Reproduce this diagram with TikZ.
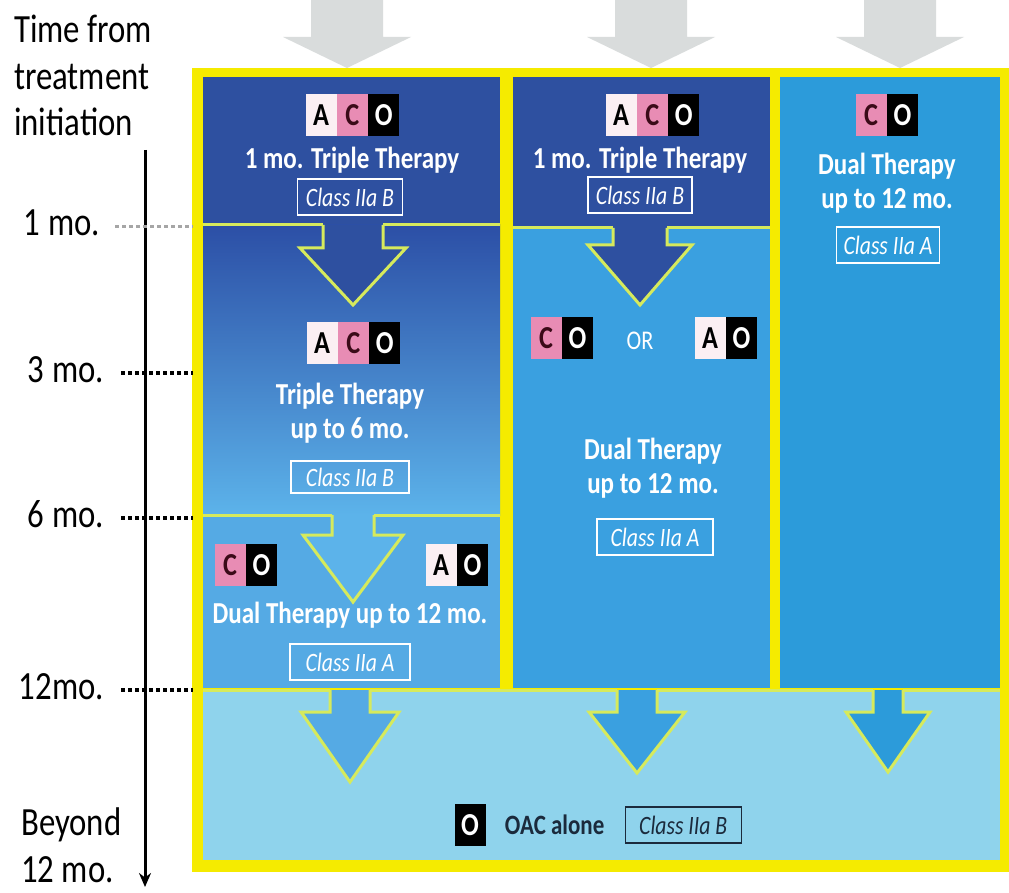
\documentclass[tikz,border=0pt]{standalone}
\usepackage{fontspec}
\setmainfont{Carlito}[FakeStretch=0.82]
\usetikzlibrary{positioning,arrows.meta}

\definecolor{frameyellow}{HTML}{F5EB00}
\definecolor{flowgreen}{HTML}{D6EA5C}
\definecolor{topblue}{HTML}{2E50A0}
\definecolor{midtop}{HTML}{2C4FA6}
\definecolor{midbot}{HTML}{5CB3EA}
\definecolor{lowblue}{HTML}{55AAE4}
\definecolor{col2blue}{HTML}{3AA0E0}
\definecolor{col3blue}{HTML}{2C9BDA}
\definecolor{skyblue}{HTML}{8FD3EC}
\definecolor{arrowgray}{HTML}{D9DCDC}
\definecolor{lettwhite}{HTML}{FBEFF3}
\definecolor{lettpink}{HTML}{E88CB4}
\definecolor{lettdark}{HTML}{3B0A18}
\definecolor{darktext}{HTML}{1B2A3C}

\newcommand\letfont{\fontsize{32}{32}\selectfont\bfseries}
\newcommand\thfont{\fontsize{30.5}{34}\selectfont\bfseries}
\newcommand\clsfont{\fontsize{26.5}{28}\selectfont\itshape}
\newcommand\timefont{\fontsize{40}{46.5}\selectfont}

\tikzset{
  letbox/.style={inner sep=0pt, minimum width=31pt, minimum height=42pt, font=\letfont},
  letA/.style={letbox, fill=lettwhite, text=black},
  letC/.style={letbox, fill=lettpink, text=lettdark},
  letO/.style={letbox, fill=black, text=white},
  therapy/.style={text=white, font=\thfont, align=center, inner sep=0pt},
  classbox/.style={draw=white, line width=1.5pt, text=white, font=\clsfont,
                   inner sep=0pt, minimum height=36pt},
  flowarrow/.style={draw=flowgreen, line width=3pt, line join=miter},
  sepline/.style={draw=flowgreen, line width=3pt},
  tickdots/.style={dash pattern=on 4pt off 3pt, line width=4pt},
  monthlabel/.style={font=\timefont, anchor=base east, inner sep=0pt},
}

\begin{document}
\begin{tikzpicture}[x=1pt, y=-1pt]
\useasboundingbox (0,0) rectangle (1009,893);
\fill[white] (0,0) rectangle (1009,893);

%% === GRAY ARROWS ENTERING THE FRAME ===
\foreach \cx in {347,651,900}
  \fill[arrowgray] (\cx-36,0) -- (\cx-36,37) -- (\cx-64,37) -- (\cx,68)
                   -- (\cx+64,37) -- (\cx+36,37) -- (\cx+36,0) -- cycle;

%% === FRAME AND COLUMNS ===
\fill[frameyellow] (192,68) rectangle (1009,872);
\fill[topblue] (203,77) rectangle (500,225);
\shade[top color=midtop, bottom color=midbot] (203,225) rectangle (500,515);
\fill[lowblue] (203,515) rectangle (500,688);
\fill[topblue] (513,77) rectangle (770,228);
\fill[col2blue] (513,228) rectangle (770,688);
\fill[col3blue] (780,77) rectangle (1000,688);
\fill[skyblue] (203,690) rectangle (1000,860);

%% separating lines, open where the arrow stems pass
\draw[sepline] (203,225) -- (323,225) (383,225) -- (500,225);
\draw[sepline] (203,515) -- (332,515) (374,515) -- (500,515);
\draw[sepline] (513,228) -- (613,228) (667,228) -- (770,228);
\draw[sepline] (203,690) -- (330,690) (370,690) -- (617,690)
               (657,690) -- (873,690) (903,690) -- (1000,690);

%% === FLOW ARROWS: centre/top/stem/head/head y/tip y/fill ===
\foreach \cx/\yt/\sw/\hw/\yh/\yp/\fc in {353/225/30/53/248/305/topblue,
    353/515/21/50/535/602/midbot, 640/228/27/52/245/305/topblue,
    350/690/20/49/712/782/lowblue, 637/690/20/48/712/773/col2blue,
    888/690/15/42/712/772/col3blue}
  \filldraw[flowarrow, fill=\fc] (\cx-\sw,\yt) -- (\cx-\sw,\yh) -- (\cx-\hw,\yh)
      -- (\cx,\yp) -- (\cx+\hw,\yh) -- (\cx+\sw,\yh) -- (\cx+\sw,\yt);

%% === COLUMN 1 ===
\node[letA] (aco1a) at (321,115) {A};
\node[letC, right=0pt of aco1a] (aco1c) {C};
\node[letO, right=0pt of aco1c] (aco1o) {O};
\node[therapy] (tt1) at (352,160) {1 mo. Triple Therapy};
\node[classbox, minimum width=105pt] (cls1) at (350,197) {Class IIa B};

\node[letA] (aco2a) at (322,343) {A};
\node[letC, right=0pt of aco2a] (aco2c) {C};
\node[letO, right=0pt of aco2c] (aco2o) {O};
\node[therapy] (tt2) at (350,413) {Triple Therapy\\up to 6 mo.};
\node[classbox, minimum width=118pt, minimum height=32pt] (cls2) at (350,477) {Class IIa B};

\node[letC] (co3c) at (230,565) {C};
\node[letO, right=0pt of co3c] (co3o) {O};
\node[letA] (ao3a) at (441,565) {A};
\node[letO, right=0pt of ao3a] (ao3o) {O};
\node[therapy] (dt3) at (350,615) {Dual Therapy up to 12 mo.};
\node[classbox, minimum width=120pt] (cls3) at (350,662) {Class IIa A};

%% === COLUMN 2 ===
\node[letA] (aco4a) at (621,115) {A};
\node[letC, right=0pt of aco4a] (aco4c) {C};
\node[letO, right=0pt of aco4c] (aco4o) {O};
\node[therapy] (tt4) at (640,160) {1 mo. Triple Therapy};
\node[classbox, minimum width=104pt] (cls4) at (640,195) {Class IIa B};

\node[letC] (co5c) at (546,338) {C};
\node[letO, right=0pt of co5c] (co5o) {O};
\node[text=white, font=\fontsize{27}{27}\selectfont, inner sep=0pt] (or5) at (640,341) {OR};
\node[letA] (ao5a) at (710,338) {A};
\node[letO, right=0pt of ao5a] (ao5o) {O};
\node[therapy] (dt5) at (653,468) {Dual Therapy\\up to 12 mo.};
\node[classbox, minimum width=116pt] (cls5) at (655,537) {Class IIa A};

%% === COLUMN 3 ===
\node[letC] (co6c) at (871,115) {C};
\node[letO, right=0pt of co6c] (co6o) {O};
\node[therapy] (dt6) at (887,183) {Dual Therapy\\up to 12 mo.};
\node[classbox, minimum width=103pt] (cls6) at (888,245) {Class IIa A};

%% === BOTTOM ROW ===
\node[letO] (oac) at (470,825) {O};
\node[right=19pt of oac, font=\fontsize{28}{28}\selectfont\bfseries, text=darktext,
      inner sep=0pt] (oaclbl) {OAC alone};
\node[classbox, draw=darktext, text=darktext, minimum width=116pt,
      right=20pt of oaclbl] (cls7) {Class IIa B};

%% === TIME AXIS ===
\node[anchor=north west, font=\timefont, align=left, inner sep=0pt] (timehdr)
  at (14,15) {Time from\\treatment\\initiation};
\coordinate (tltop) at (145,150);
\coordinate (tlend) at (145,887);
\draw[line width=3pt, -{Stealth[length=14pt, width=12pt]}] (tltop) -- (tlend);

\node[monthlabel] (m227) at (100,236) {1 mo.};
\draw[tickdots, gray!70, line width=3pt] (115,227) -- (193,227);
\foreach \lab/\y in {3 mo./373, 6 mo./518, 12mo./690} {
  \node[monthlabel] (m\y) at (104,\y+9) {\lab};
  \draw[tickdots] (121,\y) -- (193,\y);
}
\node[anchor=north west, font=\timefont, align=left, inner sep=0pt] (beyond)
  at (21,808) {Beyond\\12 mo.};

\end{tikzpicture}
\end{document}
